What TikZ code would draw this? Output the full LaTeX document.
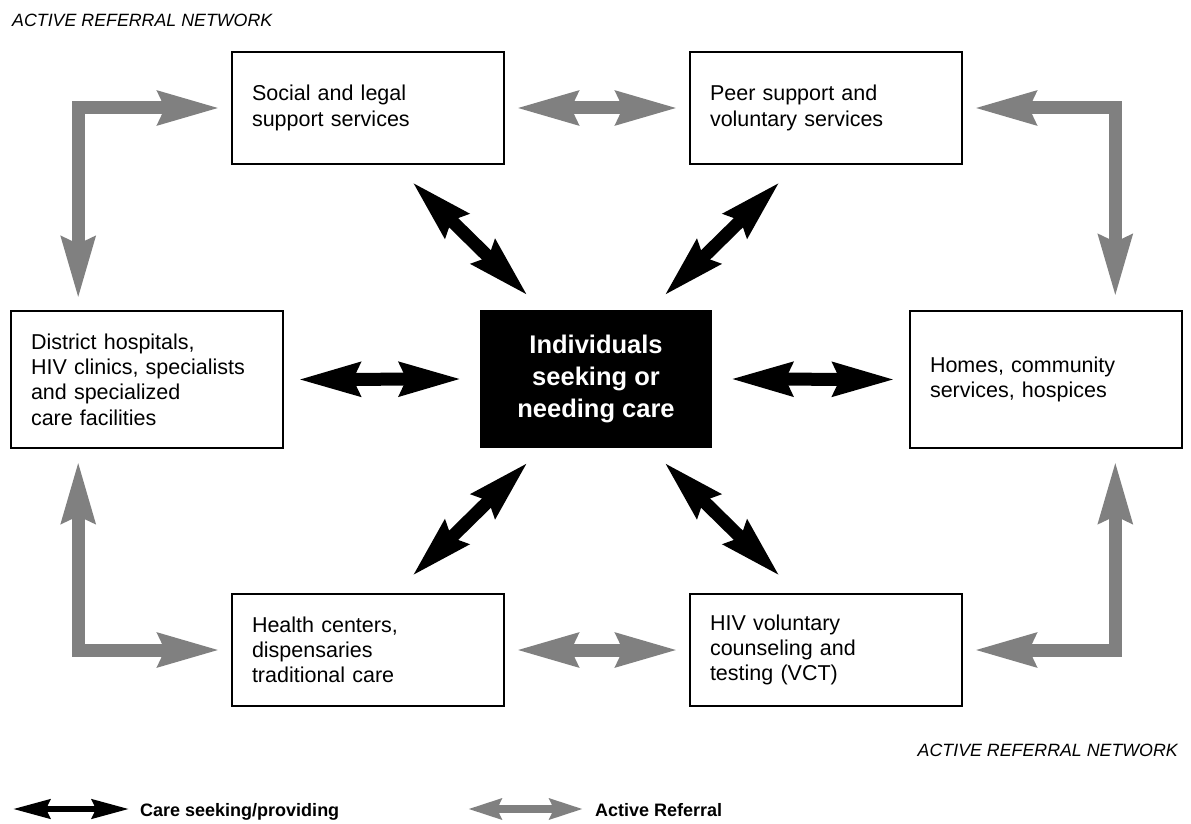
\documentclass[tikz,border=0pt]{standalone}
\usepackage{fontspec}
\setmainfont{Liberation Sans}
\usetikzlibrary{arrows.meta}
\definecolor{refgray}{RGB}{128,128,128}
\begin{document}
\begin{tikzpicture}[x=1pt,y=-1pt,
  box/.style={draw=black, line width=1.6pt, minimum width=272pt, minimum height=112pt,
    text width=232pt, inner xsep=20pt, inner ysep=0pt, align=left,
    font=\fontsize{21.5}{25.3}\selectfont},
  tallbox/.style={box, minimum height=137pt},
  center/.style={fill=black, text=white, minimum width=232pt, minimum height=138pt,
    inner sep=0pt, align=center, font=\fontsize{25.5}{32}\selectfont\bfseries},
  bigtip/.tip={Stealth[length=61pt,width=32pt,inset=6pt]},
  blk/.style={line width=13pt, draw=black, bigtip-bigtip},
  gry/.style={line width=13pt, draw=refgray, line join=miter, bigtip-bigtip},
  blkleg/.style={line width=6pt, draw=black, {Stealth[length=37pt,width=19pt,inset=4pt]}-{Stealth[length=37pt,width=19pt,inset=4pt]}},
  gryleg/.style={line width=8pt, draw=refgray, {Stealth[length=33pt,width=20pt,inset=4pt]}-{Stealth[length=33pt,width=20pt,inset=4pt]}},
  lbl/.style={inner sep=0pt, font=\fontsize{17.8}{20}\selectfont\itshape},
  leg/.style={inner sep=0pt, anchor=base west, font=\fontsize{18}{20}\selectfont\bfseries}
]
\useasboundingbox[fill=white] (0,0) rectangle (1191,824);

% labels
\node[lbl, anchor=base west] (toplbl) at (12,26.7) {ACTIVE REFERRAL NETWORK};
\node[lbl, anchor=base east] (botlbl) at (1178,756) {ACTIVE REFERRAL NETWORK};

% boxes
\node[box] (soc) at (368,108) {Social and legal\\support services};
\node[box] (peer) at (826,108) {Peer support and\\voluntary services};
\node[tallbox] (dist) at (147,379.5) {District hospitals,\\HIV clinics, specialists\\and specialized\\care facilities};
\node[center] (ctr) at (596,379) {Individuals\\seeking or\\needing care};
\node[tallbox] (home) at (1046,379.5) {Homes, community\\services, hospices};
\node[box] (hlth) at (368,650) {Health centers,\\dispensaries\\traditional care};
\node[box] (vct) at (826,650) {HIV voluntary\\counseling and\\testing (VCT)};

% care seeking arrows (black)
\draw[blk] ([xshift=14]dist.east) -- ([xshift=-18]ctr.west);
\draw[blk] ([xshift=18]ctr.east) -- ([xshift=-14]home.west);
\draw[blk] ([shift={(44,17)}]soc.south) -- ([shift={(-68,-14)}]ctr.north);
\draw[blk] ([shift={(-46,17)}]peer.south) -- ([shift={(68,-14)}]ctr.north);
\draw[blk] ([shift={(44,-17)}]hlth.north) -- ([shift={(-68,14)}]ctr.south);
\draw[blk] ([shift={(-46,-17)}]vct.north) -- ([shift={(68,14)}]ctr.south);

% active referral arrows (gray)
\draw[gry] ([xshift=11]soc.east) -- ([xshift=-11]peer.west);
\draw[gry] ([xshift=11]hlth.east) -- ([xshift=-11]vct.west);
\draw[gry] ([shift={(68,-11)}]dist.north west) |- ([xshift=-11]soc.west);
\draw[gry] ([xshift=11]peer.east) -| ([shift={(-67.5,-13)}]home.north east);
\draw[gry] ([shift={(68,12)}]dist.south west) |- ([xshift=-11]hlth.west);
\draw[gry] ([xshift=11]vct.east) -| ([shift={(-67.5,12)}]home.south east);

% legend
\coordinate (l1a) at (13,809);
\coordinate (l1b) at (129,809);
\draw[blkleg] (l1a) -- (l1b);
\node[leg] (leg1) at (140,816) {Care seeking/providing};
\coordinate (l2a) at (468,809);
\coordinate (l2b) at (583,809);
\draw[gryleg] (l2a) -- (l2b);
\node[leg] (leg2) at (595,816) {Active Referral};
\end{tikzpicture}
\end{document}
